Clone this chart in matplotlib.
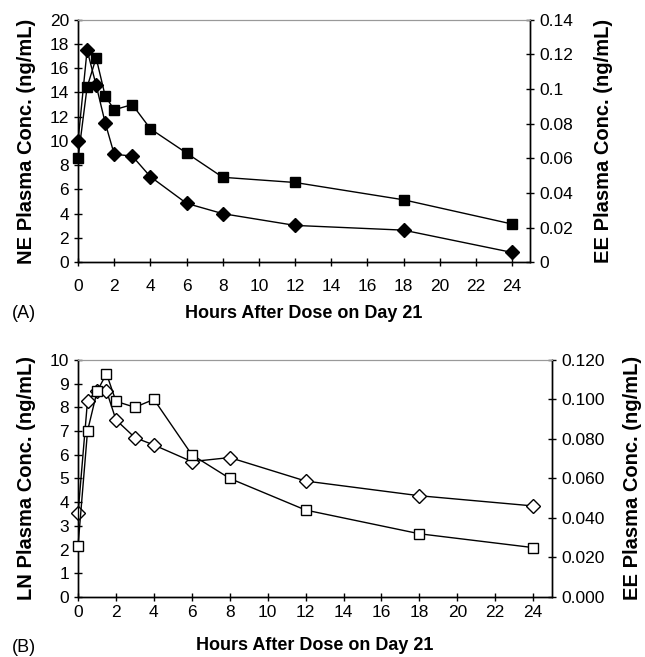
import matplotlib.pyplot as plt

plt.rcParams['font.family'] = ['Liberation Sans', 'DejaVu Sans']

hours = [0, 0.5, 1, 1.5, 2, 3, 4, 6, 8, 12, 18, 24]
xticks = list(range(0, 25, 2))

# panel A
ne_conc = [10.0, 17.5, 14.6, 11.5, 8.9, 8.75, 7.05, 4.85, 4.0, 3.03, 2.64, 0.8]
ee_conc_a = [0.060, 0.101, 0.118, 0.096, 0.088, 0.091, 0.077, 0.063, 0.049, 0.046, 0.036, 0.022]

# panel B
ln_conc = [3.53, 8.28, 8.7, 8.69, 7.47, 6.72, 6.41, 5.71, 5.88, 4.89, 4.27, 3.84]
ee_conc_b = [0.026, 0.084, 0.104, 0.113, 0.099, 0.096, 0.100, 0.072, 0.060, 0.044, 0.032, 0.025]

fig = plt.figure(figsize=(6.45, 6.57), dpi=100)


def style(ax, ax2, xpad):
    ax.set_xlim(0, 25)
    ax.set_xticks(xticks)
    for a in (ax, ax2):
        a.spines['top'].set_color('#999999')
        a.spines['top'].set_linewidth(0.8)
        for s in ('left', 'right', 'bottom'):
            a.spines[s].set_linewidth(1.0)
        a.tick_params(direction='inout', length=6, width=1, labelsize=12.5)
    ax.tick_params(axis='x', pad=xpad)


def panel(rect, left_vals, right_vals, ylim, y2lim, yticks, y2ticks, y2fmt,
          ylabel, filled, xpad, xlpad, rpad):
    ax = fig.add_axes(rect)
    ax2 = ax.twinx()
    fc = 'black' if filled else 'white'
    ax.plot(hours, left_vals, color='black', lw=1.0, marker='D', ms=7.5,
            mfc=fc, mec='black', mew=1.0, clip_on=False, zorder=3)
    ax2.plot(hours, right_vals, color='black', lw=1.0, marker='s', ms=7.5,
             mfc=fc, mec='black', mew=1.0, clip_on=False, zorder=3)
    ax.set_ylim(*ylim)
    ax2.set_ylim(*y2lim)
    ax.set_yticks(yticks)
    ax2.set_yticks(y2ticks)
    ax2.set_yticklabels([y2fmt(v) for v in y2ticks])
    style(ax, ax2, xpad)
    ax.set_ylabel(ylabel, fontsize=14.5, fontweight='bold', labelpad=10)
    ax2.set_ylabel('EE Plasma Conc. (ng/mL)', fontsize=14.5, fontweight='bold',
                   labelpad=rpad)
    ax.set_xlabel('Hours After Dose on Day 21', fontsize=13,
                  fontweight='bold', labelpad=xlpad)
    return ax, ax2


def fmt_a(v):
    return '0' if v == 0 else ('%g' % round(v, 2))


axA, axA2 = panel([0.121, 0.601, 0.701, 0.369], ne_conc, ee_conc_a,
                  (0, 20), (0, 0.14), range(0, 21, 2),
                  [0, 0.02, 0.04, 0.06, 0.08, 0.1, 0.12, 0.14], fmt_a,
                  'NE Plasma Conc. (ng/mL)', True, 9, 8, 15)
axB, axB2 = panel([0.121, 0.0913, 0.735, 0.361], ln_conc, ee_conc_b,
                  (0, 10), (0, 0.12), range(0, 11, 1),
                  [0, 0.02, 0.04, 0.06, 0.08, 0.1, 0.12],
                  lambda v: '%.3f' % v,
                  'LN Plasma Conc. (ng/mL)', False, 3, 12, 13)

fig.text(0.018, 1 - 313 / 657, '(A)', fontsize=13, va='center')
fig.text(0.018, 1 - 647 / 657, '(B)', fontsize=13, va='center')

fig.savefig('out.png', dpi=100)
